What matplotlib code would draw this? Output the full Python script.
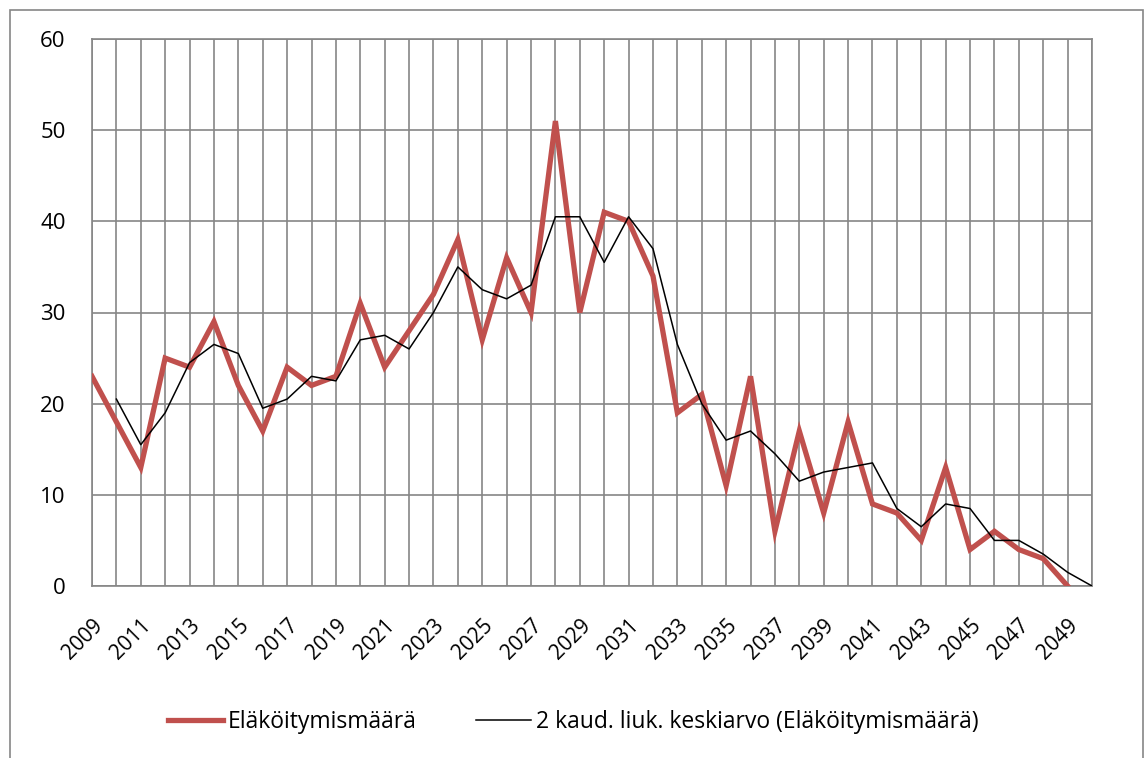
import matplotlib
matplotlib.use("Agg")
import matplotlib.pyplot as plt
from matplotlib.patches import Rectangle

years = list(range(2009, 2051))
retirements = [23, 18, 13, 25, 24, 29, 22, 17, 24, 22, 23, 31, 24, 28, 32, 38, 27, 36, 30, 51,
               30, 41, 40, 34, 19, 21, 11, 23, 6, 17, 8, 18, 9, 8, 5, 13, 4, 6, 4, 3, 0]
ma_years = list(range(2010, 2051))
moving_avg = [20.5, 15.5, 19, 24.5, 26.5, 25.5, 19.5, 20.5, 23, 22.5, 27, 27.5, 26, 30, 35,
              32.5, 31.5, 33, 40.5, 40.5, 35.5, 40.5, 37, 26.5, 20, 16, 17, 14.5, 11.5, 12.5,
              13, 13.5, 8.5, 6.5, 9, 8.5, 5, 5, 3.5, 1.5, 0]
label_years = list(range(2009, 2050, 2))

plt.rcParams["font.family"] = ["Open Sans", "DejaVu Sans"]

fig = plt.figure(figsize=(11.46, 7.58), dpi=100)
ax = fig.add_axes([92 / 1146, 1 - 586 / 758, 1000 / 1146, 547 / 758])

grid_c = "#868686"
ax.plot(years[:len(retirements)], retirements, color="#C0504D", lw=3.8,
        solid_joinstyle="miter", label="Eläköitymismäärä", zorder=3)
ax.plot(ma_years, moving_avg, color="black", lw=1.1,
        label="2 kaud. liuk. keskiarvo (Eläköitymismäärä)", zorder=4)

ax.set_xlim(2009, 2050)
ax.set_ylim(0, 60)
ax.set_yticks(range(0, 61, 10))
ax.set_xticks(years, minor=True)
ax.set_xticks(label_years)
ax.set_xticklabels([str(y) for y in label_years], rotation=45, ha="right", rotation_mode="anchor",
                   fontsize=15)
ax.tick_params(axis="y", labelsize=16, length=0, pad=19)
ax.tick_params(axis="x", which="both", length=0, pad=21)
ax.grid(True, which="both", axis="x", color=grid_c, lw=1.2)
ax.grid(True, which="major", axis="y", color=grid_c, lw=1.2)
for s in ax.spines.values():
    s.set_color(grid_c)
    s.set_linewidth(1.2)
ax.set_axisbelow(True)

fig.legend(loc="center", bbox_to_anchor=(0.5, 1 - 722 / 758), ncol=2, frameon=False, fontsize=16.5,
           handlelength=2.4, columnspacing=2.6, handletextpad=0.2)

fig.patches.append(Rectangle((10 / 1146, -0.01), 1133 / 1146, 1 - 10 / 758 + 0.01,
                             transform=fig.transFigure, fill=False, edgecolor="#868686", lw=1.2))

fig.savefig("out.png", dpi=100)
